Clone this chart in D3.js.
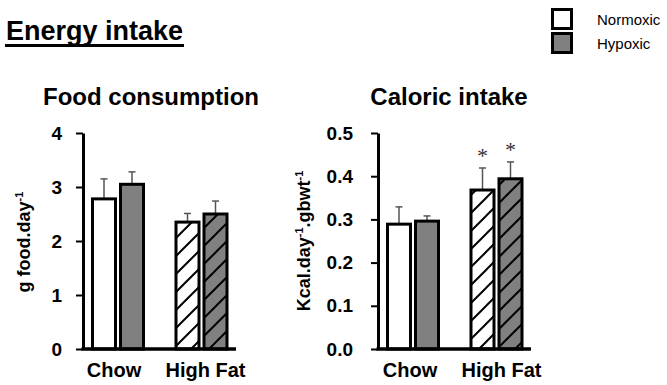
<!DOCTYPE html>
<html>
<head>
<meta charset="utf-8">
<script src="https://cdn.jsdelivr.net/npm/d3@7"></script>
<style>
  html, body { margin: 0; padding: 0; background: #fff; }
  svg { display: block; font-family: Arial, "Liberation Sans", Helvetica, sans-serif; }
</style>
</head>
<body>
<svg id="chart" width="667" height="385"></svg>
<script>
// ---------- data ----------
const categories = ["Chow", "High Fat"];
const seriesNames = ["Normoxic", "Hypoxic"];
const seriesColors = ["#ffffff", "#808080"];
const hatchedCategories = ["High Fat"];

const foodNormoxic = [2.78, 2.35];
const foodHypoxic = [3.05, 2.50];
const foodNormoxicSEM = [0.37, 0.16];
const foodHypoxicSEM = [0.23, 0.24];
const foodTicks = [0, 1, 2, 3, 4];

const calNormoxic = [0.289, 0.368];
const calHypoxic = [0.296, 0.394];
const calNormoxicSEM = [0.040, 0.051];
const calHypoxicSEM = [0.012, 0.039];
const calSignificant = [[false, true], [false, true]]; // [series][category]
const calTicks = [0, 0.1, 0.2, 0.3, 0.4, 0.5];

// ---------- drawing ----------
const svg = d3.select("#chart");
const defs = svg.append("defs");
const hp = defs.append("pattern")
  .attr("id", "hatch").attr("patternUnits", "userSpaceOnUse")
  .attr("width", 18).attr("height", 18);
hp.append("path")
  .attr("d", "M-4.5,4.5 L4.5,-4.5 M0,18 L18,0 M13.5,22.5 L22.5,13.5")
  .attr("stroke", "#000").attr("stroke-width", 2);

// Main title
svg.append("text").attr("x", 6).attr("y", 40)
  .attr("font-size", 27).attr("font-weight", "bold").text("Energy intake");
svg.append("rect").attr("x", 5).attr("y", 44).attr("width", 179).attr("height", 3).attr("fill", "#000");

// Legend
seriesNames.forEach((s, i) => {
  svg.append("rect").attr("x", 552.5).attr("y", 9.5 + i * 24).attr("width", 19).attr("height", 19)
    .attr("fill", seriesColors[i]).attr("stroke", "#000").attr("stroke-width", 3);
  svg.append("text").attr("x", 597).attr("y", 25 + i * 24)
    .attr("font-size", 15).text(s);
});

function drawPanel(cfg) {
  const g = svg.append("g");
  const y = d3.scaleLinear().domain([cfg.ticks[0], cfg.ticks[cfg.ticks.length - 1]]).range([349, 133]);
  const x = d3.scalePoint().domain(categories).range([cfg.axisX + 35, cfg.axisX + 118.5]);
  const off = d3.scalePoint().domain(seriesNames).range([-14, 14]);
  const barW = 23;

  // title
  g.append("text").attr("x", cfg.titleX).attr("y", 105).attr("text-anchor", "middle")
    .attr("font-size", 24).attr("font-weight", "bold").text(cfg.title);

  // y label
  const yl = g.append("text")
    .attr("transform", `translate(${cfg.ylabX},${cfg.ylabY}) rotate(-90)`)
    .attr("text-anchor", "middle").attr("font-size", 18).attr("font-weight", "bold");
  let prevSup = false;
  cfg.ylabParts.forEach(p => {
    const ts = yl.append("tspan").text(p.t);
    if (p.sup) {
      ts.attr("font-size", 11).attr("dy", -7);
    } else if (prevSup) {
      ts.attr("dy", 7);
    }
    prevSup = !!p.sup;
  });

  // axis
  const axis = d3.axisLeft(y).tickValues(cfg.ticks).tickFormat(cfg.fmt)
    .tickSizeInner(7).tickSizeOuter(0).tickPadding(cfg.pad);
  const ag = g.append("g").attr("transform", `translate(${cfg.axisX},0)`).call(axis);
  ag.select(".domain").attr("stroke-width", 3).attr("stroke", "#000");
  ag.selectAll(".tick line").attr("stroke-width", 2).attr("stroke", "#000");
  ag.selectAll(".tick text").attr("font-size", 19).attr("font-weight", "bold").attr("fill", "#000")
    .attr("font-family", "Arial, 'Liberation Sans', sans-serif");

  // bars
  const data = [];
  seriesNames.forEach((s, si) => {
    categories.forEach((c, ci) => {
      data.push({ s, si, c, ci, v: cfg.values[si][ci], e: cfg.errs[si][ci],
        sig: cfg.sig ? cfg.sig[si][ci] : false });
    });
  });
  const bx = d => x(d.c) + off(d.s) - barW / 2;

  // error bars (behind bar outline)
  data.forEach(d => {
    const cx = x(d.c) + off(d.s);
    g.append("line").attr("x1", cx).attr("x2", cx).attr("y1", y(d.v)).attr("y2", y(d.v + d.e))
      .attr("stroke", "#555").attr("stroke-width", 1.5);
    g.append("line").attr("x1", cx - 3.5).attr("x2", cx + 3.5).attr("y1", y(d.v + d.e)).attr("y2", y(d.v + d.e))
      .attr("stroke", "#555").attr("stroke-width", 1.5);
    if (d.sig) {
      g.append("text").attr("x", cx).attr("y", y(d.v + d.e) - 5).attr("text-anchor", "middle")
        .attr("font-family", "'Liberation Serif', 'DejaVu Serif', serif")
        .attr("font-size", 22).attr("fill", "#333").text("*");
    }
  });

  g.selectAll(".barfill").data(data).join("rect")
    .attr("x", bx).attr("y", d => y(d.v)).attr("width", barW).attr("height", d => y(0) - y(d.v))
    .attr("fill", d => seriesColors[d.si]);
  g.selectAll(".barhatch").data(data.filter(d => hatchedCategories.includes(d.c))).join("rect")
    .attr("x", bx).attr("y", d => y(d.v)).attr("width", barW).attr("height", d => y(0) - y(d.v))
    .attr("fill", "url(#hatch)");
  g.selectAll(".barstroke").data(data).join("rect")
    .attr("x", bx).attr("y", d => y(d.v)).attr("width", barW).attr("height", d => y(0) - y(d.v))
    .attr("fill", "none").attr("stroke", "#000").attr("stroke-width", 3);

  // baseline
  g.append("line").attr("x1", cfg.axisX - 1.5).attr("x2", cfg.axisX + 153).attr("y1", y(0)).attr("y2", y(0))
    .attr("stroke", "#000").attr("stroke-width", 3.5);

  // category labels
  categories.forEach((c, i) => {
    g.append("text").attr("x", x(c) + cfg.catOff[i]).attr("y", 377).attr("text-anchor", "middle")
      .attr("font-size", 20).attr("font-weight", "bold").text(c);
  });
}

drawPanel({
  title: "Food consumption", titleX: 151,
  axisX: 83, ticks: foodTicks, fmt: d3.format("d"), pad: 14,
  values: [foodNormoxic, foodHypoxic], errs: [foodNormoxicSEM, foodHypoxicSEM],
  ylabX: 30, ylabY: 242, ylabParts: [{ t: "g food.day" }, { t: "-1", sup: true }],
  catOff: [-4, 4]
});

drawPanel({
  title: "Caloric intake", titleX: 449,
  axisX: 378, ticks: calTicks, fmt: d3.format(".1f"), pad: 18,
  values: [calNormoxic, calHypoxic], errs: [calNormoxicSEM, calHypoxicSEM], sig: calSignificant,
  ylabX: 310, ylabY: 241,
  ylabParts: [{ t: "Kcal.day" }, { t: "-1", sup: true }, { t: ".gbwt" }, { t: "-1", sup: true }],
  catOff: [-3, 5]
});
</script>
</body>
</html>
